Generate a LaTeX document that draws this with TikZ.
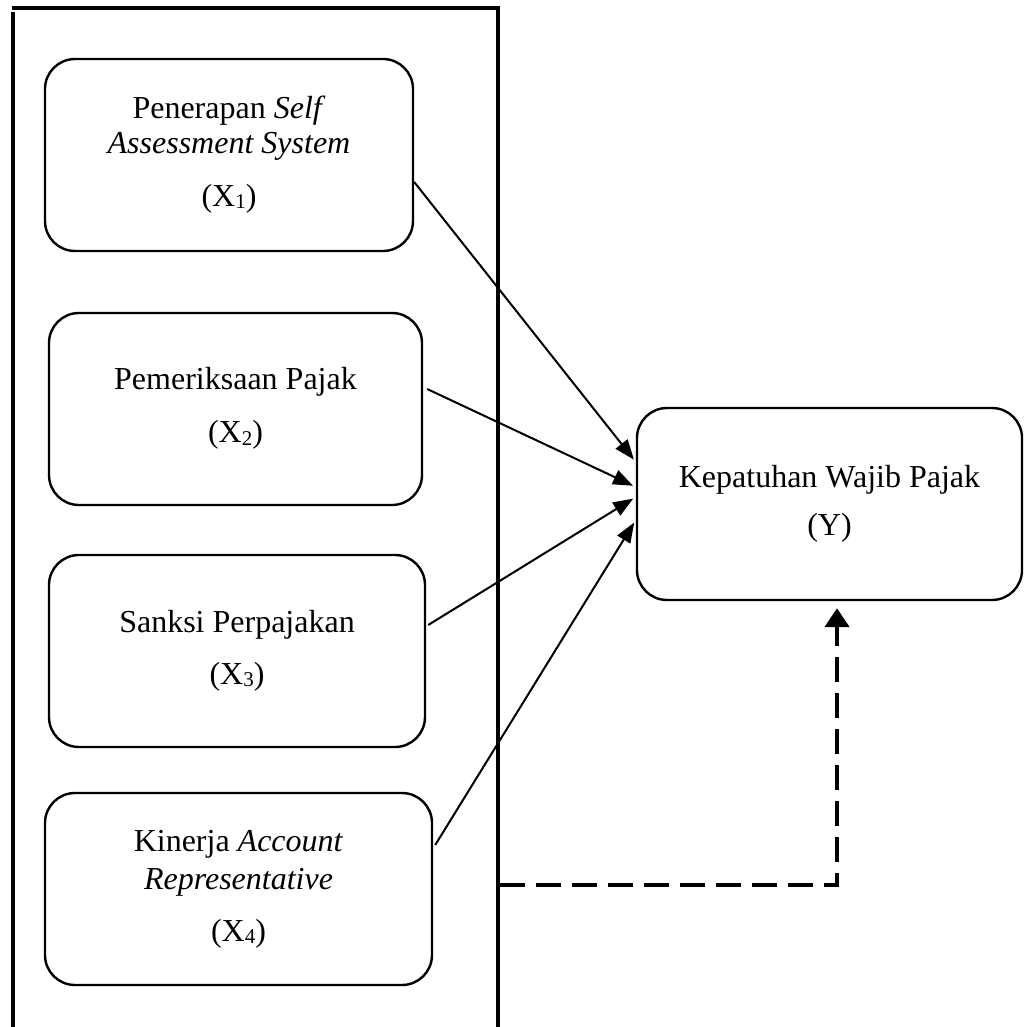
\documentclass[tikz,border=0pt]{standalone}
\usepackage{fontspec}
\setmainfont{Liberation Serif}
\usetikzlibrary{arrows.meta}
\newcommand{\xsub}[1]{\raisebox{-2.5pt}{\fontsize{21}{21}\selectfont #1}}
\begin{document}
\begin{tikzpicture}[x=1pt,y=-1pt,
  vbox/.style={draw, line width=2.4pt, rounded corners=30pt, inner sep=0pt, align=center,
    font=\fontsize{32}{36}\selectfont},
  frameline/.style={line width=3.4pt},
  link/.style={line width=2pt, -{Triangle[length=20pt,width=15pt]}, shorten >=3pt},
  dashlink/.style={line width=4.5pt, dash pattern=on 25pt off 11pt, -{Triangle[length=19pt,width=24pt]}, shorten >=7pt}
]
\useasboundingbox (0,0) rectangle (1024,1027);
% outer frame
\coordinate (ftl) at (12,8);
\coordinate (ftr) at (500,8);
\coordinate (fl1) at (13,12);
\coordinate (fl2) at (13,1027);
\coordinate (fr1) at (498,8);
\coordinate (fr2) at (498,1027);
\draw[frameline] (ftl) -- (ftr);
\draw[frameline] (fl1) -- (fl2);
\draw[frameline] (fr1) -- (fr2);
% boxes
\node[vbox, minimum width=368pt, minimum height=192pt] (X1) at (229,155)
  {\strut Penerapan \textit{Self}\\[-1pt] \strut\textit{Assessment System}\\[17pt] \strut(X\xsub{1})};
\node[vbox, minimum width=373pt, minimum height=192pt] (X2) at (235.5,409)
  {\strut Pemeriksaan Pajak\\[17pt] \strut(X\xsub{2})};
\node[vbox, minimum width=376pt, minimum height=192pt] (X3) at (237,651)
  {\strut Sanksi Perpajakan\\[16pt] \strut(X\xsub{3})};
\node[vbox, minimum width=387pt, minimum height=192pt] (X4) at (238.5,889)
  {\strut Kinerja \textit{Account}\\[2pt] \strut\textit{Representative}\\[16pt] \strut(X\xsub{4})};
\node[vbox, minimum width=385pt, minimum height=192pt] (Y) at (829.5,504)
  {\strut Kepatuhan Wajib Pajak\\[12pt] \strut(Y)};
% arrows
\draw[link] ([yshift=-27pt]X1.east) -- ([yshift=42pt]Y.west);
\draw[link] ([xshift=4pt,yshift=20pt]X2.east) -- ([yshift=17pt]Y.west);
\draw[link] ([xshift=2pt,yshift=26pt]X3.east) -- ([yshift=7pt]Y.west);
\draw[link] ([xshift=2pt,yshift=44pt]X4.east) -- ([yshift=-16pt]Y.west);
% dashed connector
\coordinate (ds) at (500,885);
\coordinate (dc) at (837,885);
\draw[dashlink] (ds) -- (dc) -- (dc |- Y.south);
\end{tikzpicture}
\end{document}
